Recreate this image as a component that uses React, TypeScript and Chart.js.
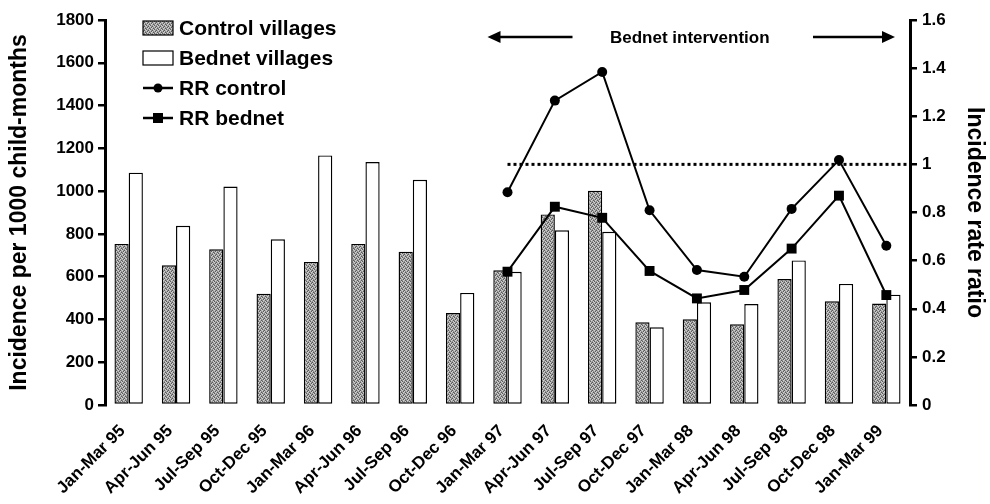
import React, { useEffect, useRef } from "react";
import { Chart, registerables } from "chart.js";

Chart.register(...registerables);

const categories = [
  "Jan-Mar 95", "Apr-Jun 95", "Jul-Sep 95", "Oct-Dec 95",
  "Jan-Mar 96", "Apr-Jun 96", "Jul-Sep 96", "Oct-Dec 96",
  "Jan-Mar 97", "Apr-Jun 97", "Jul-Sep 97", "Oct-Dec 97",
  "Jan-Mar 98", "Apr-Jun 98", "Jul-Sep 98", "Oct-Dec 98",
  "Jan-Mar 99",
];
const controlVillages = [753, 653, 728, 520, 669, 753, 717, 430, 630, 891, 1002, 387, 401, 377, 589, 485, 474];
const bednetVillages = [1086, 838, 1021, 775, 1167, 1136, 1053, 524, 623, 817, 810, 363, 480, 472, 676, 566, 516];
const rrControl = [null, null, null, null, null, null, null, null, 0.884, 1.265, 1.384, 0.809, 0.561, 0.533, 0.815, 1.018, 0.662];
const rrBednet = [null, null, null, null, null, null, null, null, 0.554, 0.824, 0.778, 0.557, 0.443, 0.478, 0.65, 0.87, 0.457];
const leftTicks = [0, 200, 400, 600, 800, 1000, 1200, 1400, 1600, 1800];
const rightTicks = [0, 0.2, 0.4, 0.6, 0.8, 1, 1.2, 1.4, 1.6];
const referenceRatio = 1;
const interventionStartIndex = 8;
const annotationText = "Bednet intervention";

const FONT = "'Liberation Sans', Arial, sans-serif";

function makePattern(): CanvasPattern | string {
  const rows = [
    "2013",
    "1302",
    "0231",
    "3120",
  ];
  const shades = ["#5c5c5c", "#8c8c8c", "#b2b2b2", "#d0d0d0"];
  const c = document.createElement("canvas");
  c.width = 4;
  c.height = 4;
  const g = c.getContext("2d");
  if (!g) return "#a0a0a0";
  for (let y = 0; y < 4; y++) {
    for (let x = 0; x < 4; x++) {
      g.fillStyle = shades[Number(rows[y][x])];
      g.fillRect(x, y, 1, 1);
    }
  }
  const p = g.createPattern(c, "repeat");
  return p || "#a0a0a0";
}

export default function App() {
  const ref = useRef<HTMLCanvasElement | null>(null);

  useEffect(() => {
    if (!ref.current) return;
    const pattern = makePattern();

    const refLinePlugin = {
      id: "refLine",
      beforeDatasetsDraw(chart: any) {
        const { ctx, chartArea, scales } = chart;
        const y = scales.yR.getPixelForValue(referenceRatio);
        const x0 = scales.x.getPixelForValue(interventionStartIndex);
        ctx.save();
        ctx.strokeStyle = "#000";
        ctx.lineWidth = 3;
        ctx.setLineDash([3, 3]);
        ctx.beginPath();
        ctx.moveTo(x0, y);
        ctx.lineTo(chartArea.right - 2, y);
        ctx.stroke();
        ctx.restore();
      },
    };

    const arrowPlugin = {
      id: "arrows",
      afterDraw(chart: any) {
        const { ctx, chartArea, scales } = chart;
        const y = chartArea.top + 17;
        const leftTip = scales.x.getPixelForValue(interventionStartIndex) - 20;
        const rightTip = chartArea.right - 15;
        const leftTail = leftTip + 85;
        const rightTail = rightTip - 82;
        const mid = (leftTail + rightTail) / 2 - 3;
        ctx.save();
        ctx.fillStyle = "#000";
        ctx.strokeStyle = "#000";
        ctx.lineWidth = 2.5;
        ctx.beginPath();
        ctx.moveTo(leftTip + 10, y);
        ctx.lineTo(leftTail, y);
        ctx.moveTo(rightTail, y);
        ctx.lineTo(rightTip - 10, y);
        ctx.stroke();
        ctx.beginPath();
        ctx.moveTo(leftTip, y);
        ctx.lineTo(leftTip + 13, y - 6);
        ctx.lineTo(leftTip + 13, y + 6);
        ctx.closePath();
        ctx.fill();
        ctx.beginPath();
        ctx.moveTo(rightTip, y);
        ctx.lineTo(rightTip - 13, y - 6);
        ctx.lineTo(rightTip - 13, y + 6);
        ctx.closePath();
        ctx.fill();
        ctx.font = `bold 17px ${FONT}`;
        ctx.textAlign = "center";
        ctx.textBaseline = "middle";
        ctx.fillText(annotationText, mid, y + 1);
        ctx.restore();
      },
    };

    const legendPlugin = {
      id: "customLegend",
      afterDraw(chart: any) {
        const { ctx, chartArea } = chart;
        const ds = chart.data.datasets;
        const x = chartArea.left + 38;
        const w = 30;
        const rowH = 30;
        let y = chartArea.top + 8;
        ctx.save();
        ctx.font = `bold 21px ${FONT}`;
        ctx.textBaseline = "middle";
        ctx.textAlign = "left";
        ds.forEach((d: any, i: number) => {
          const cy = y + i * rowH;
          if (d.type === "line") {
            ctx.strokeStyle = "#000";
            ctx.lineWidth = 2.5;
            ctx.beginPath();
            ctx.moveTo(x, cy);
            ctx.lineTo(x + w, cy);
            ctx.stroke();
            ctx.fillStyle = "#000";
            if (d.pointStyle === "rect") {
              ctx.fillRect(x + w / 2 - 5, cy - 5, 10, 10);
            } else {
              ctx.beginPath();
              ctx.arc(x + w / 2, cy, 4.5, 0, Math.PI * 2);
              ctx.fill();
            }
          } else {
            ctx.fillStyle = d.backgroundColor;
            ctx.fillRect(x, cy - 7, w, 14);
            ctx.strokeStyle = "#000";
            ctx.lineWidth = 1.2;
            ctx.strokeRect(x, cy - 7, w, 14);
          }
          ctx.fillStyle = "#000";
          ctx.fillText(d.label, x + w + 6, cy + 1);
        });
        ctx.restore();
      },
    };

    const chart = new Chart(ref.current, {
      type: "bar",
      data: {
        labels: categories,
        datasets: [
          {
            type: "bar",
            label: "Control villages",
            data: controlVillages,
            backgroundColor: pattern as any,
            borderColor: "#000",
            borderWidth: 1.4,
            borderSkipped: false,
            yAxisID: "yL",
            order: 2,
            categoryPercentage: 0.6,
            barPercentage: 1,
          } as any,
          {
            type: "bar",
            label: "Bednet villages",
            data: bednetVillages,
            backgroundColor: "#ffffff",
            borderColor: "#000",
            borderWidth: 1.4,
            borderSkipped: false,
            yAxisID: "yL",
            order: 2,
            categoryPercentage: 0.6,
            barPercentage: 1,
          } as any,
          {
            type: "line",
            label: "RR control",
            data: rrControl,
            borderColor: "#000",
            backgroundColor: "#000",
            borderWidth: 2,
            pointStyle: "circle",
            pointRadius: 5,
            pointBackgroundColor: "#000",
            pointBorderWidth: 0,
            yAxisID: "yR",
            order: 1,
            tension: 0,
          } as any,
          {
            type: "line",
            label: "RR bednet",
            data: rrBednet,
            borderColor: "#000",
            backgroundColor: "#000",
            borderWidth: 2,
            pointStyle: "rect",
            pointRadius: 7,
            pointBackgroundColor: "#000",
            pointBorderWidth: 0,
            yAxisID: "yR",
            order: 1,
            tension: 0,
          } as any,
        ],
      },
      options: {
        animation: false,
        responsive: true,
        maintainAspectRatio: false,
        layout: { padding: { top: 20, left: 0, right: 0, bottom: 0 } },
        plugins: {
          legend: { display: false },
          tooltip: { enabled: false },
        },
        scales: {
          x: {
            offset: true,
            grid: { display: false, drawTicks: true, tickLength: 14 },
            border: { display: false },
            ticks: {
              color: "#000",
              font: { family: FONT, size: 17, weight: "bold" },
              minRotation: 45,
              maxRotation: 45,
              autoSkip: false,
              padding: 2,
              labelOffset: -6,
            },
            afterFit(s: any) {
              s.height = 99;
            },
          },
          yL: {
            type: "linear",
            position: "left",
            min: 0,
            max: 1800,
            afterBuildTicks(s: any) {
              s.ticks = leftTicks.map((v) => ({ value: v }));
            },
            grid: {
              drawOnChartArea: false,
              drawTicks: true,
              tickLength: 7,
              color: "#000",
              lineWidth: 2.5,
            },
            border: { display: true, color: "#000", width: 3 },
            ticks: {
              color: "#000",
              font: { family: FONT, size: 17, weight: "bold" },
              padding: 4,
              callback: (v: any) => String(v),
            },
            title: {
              display: true,
              text: "Incidence per 1000 child-months",
              color: "#000",
              font: { family: FONT, size: 23, weight: "bold" },
              padding: { top: 6, bottom: 2 },
            },
            afterFit(s: any) {
              s.width = 105;
            },
          },
          yR: {
            type: "linear",
            position: "right",
            min: 0,
            max: 1.6,
            afterBuildTicks(s: any) {
              s.ticks = rightTicks.map((v) => ({ value: v }));
            },
            grid: {
              drawOnChartArea: false,
              drawTicks: true,
              tickLength: 7,
              color: "#000",
              lineWidth: 2.5,
            },
            border: { display: true, color: "#000", width: 3 },
            ticks: {
              color: "#000",
              font: { family: FONT, size: 17, weight: "bold" },
              padding: 5,
              callback: (v: any) => String(Math.round(Number(v) * 10) / 10),
            },
            title: {
              display: true,
              text: "Incidence rate ratio",
              color: "#000",
              font: { family: FONT, size: 23, weight: "bold" },
              padding: { top: 2, bottom: 2 },
            },
            afterFit(s: any) {
              s.width = 80;
            },
          },
        },
      } as any,
      plugins: [refLinePlugin, arrowPlugin, legendPlugin],
    });

    return () => chart.destroy();
  }, []);

  return (
    <div style={{ position: "fixed", left: 0, top: 0, width: 990, height: 504, background: "#fff" }}>
      <canvas ref={ref} />
    </div>
  );
}
